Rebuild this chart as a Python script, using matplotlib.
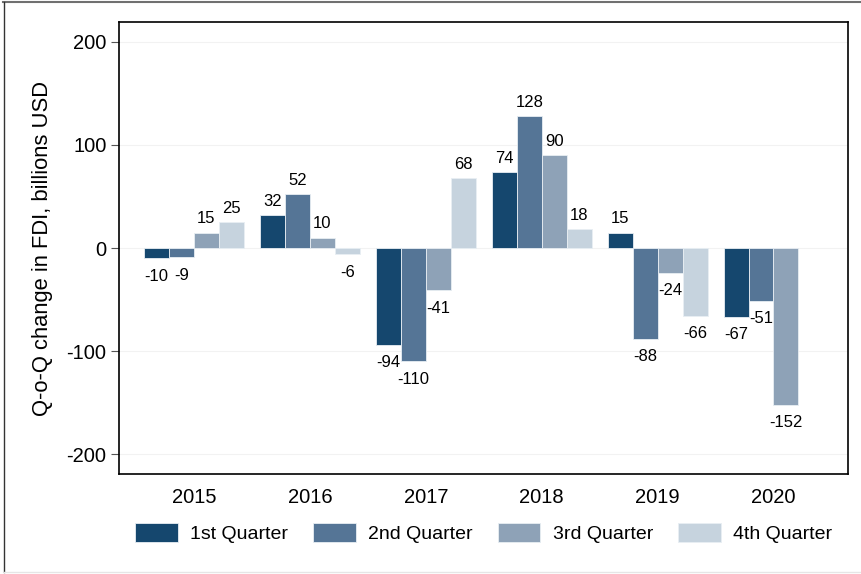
import numpy as np
import matplotlib
matplotlib.use("Agg")
import matplotlib.pyplot as plt
from matplotlib.lines import Line2D

plt.rcParams['font.family'] = ['Liberation Sans', 'DejaVu Sans']

years = ["2015", "2016", "2017", "2018", "2019", "2020"]
quarters = ["1st Quarter", "2nd Quarter", "3rd Quarter", "4th Quarter"]
q1 = [-10, 32, -94, 74, 15, -67]
q2 = [-9, 52, -110, 128, -88, -51]
q3 = [15, 10, -41, 90, -24, -152]
q4 = [25, -6, 68, 18, -66, np.nan]
series = [q1, q2, q3, q4]
colors = ["#15476e", "#557596", "#8ea2b7", "#c6d3de"]
yticks = [-200, -100, 0, 100, 200]

fig = plt.figure(figsize=(8.62, 5.74), dpi=100)
ax = fig.add_axes([119/862, 1-474/574, (848-119)/862, (474-22)/574])

x = np.arange(len(years))
w = 0.2155
for i, (vals, c) in enumerate(zip(series, colors)):
    pos = x + (i - 1.5) * w
    ax.bar(pos, vals, width=w, color=c, edgecolor="#e8eef3", linewidth=0.6,
           label=quarters[i], zorder=3)
    for xp, v in zip(pos, vals):
        if np.isnan(v):
            continue
        if v >= 0:
            ax.annotate(f"{v:g}", (xp, v), xytext=(0, 4.5), textcoords="offset points",
                        ha="center", va="bottom", fontsize=12, color="black")
        else:
            ax.annotate(f"{v:g}", (xp, v), xytext=(0, -7.5), textcoords="offset points",
                        ha="center", va="top", fontsize=12, color="black")

ax.set_xlim(-0.647, 5.643)
ax.set_ylim(-219.4, 219.4)
ax.set_yticks(yticks)
ax.set_yticklabels([str(t) for t in yticks], fontsize=14.5)
ax.set_xticks(x)
ax.set_xticklabels(years, fontsize=14.5)
ax.tick_params(axis="x", length=0, pad=10)
ax.tick_params(axis="y", length=6, width=0.8, color="#555555", pad=3)
ax.yaxis.grid(True, color="#f2f2f2", linewidth=0.8, zorder=0)
ax.set_axisbelow(True)
for s in ax.spines.values():
    s.set_linewidth(1.2)
    s.set_color("black")
ax.set_ylabel("Q-o-Q change in FDI, billions USD", fontsize=15.8, labelpad=10)

leg = fig.legend(loc="center", bbox_to_anchor=(483.5/862, 1-533/574), ncol=4,
                 frameon=False, fontsize=14, handlelength=2.2, handleheight=1.13,
                 handletextpad=0.62, columnspacing=1.3)

# figure frame lines
fig.add_artist(Line2D([3/862, 1], [1-2/574, 1-2/574], color="#707070", linewidth=1.5,
                      transform=fig.transFigure))
fig.add_artist(Line2D([4/862, 4/862], [1-2/574, 1-572/574], color="#333333", linewidth=1.0,
                      transform=fig.transFigure))
fig.add_artist(Line2D([4/862, 1], [1-572/574, 1-572/574], color="#e6e6e6", linewidth=1.0,
                      transform=fig.transFigure))

fig.savefig("out.png", dpi=100)
